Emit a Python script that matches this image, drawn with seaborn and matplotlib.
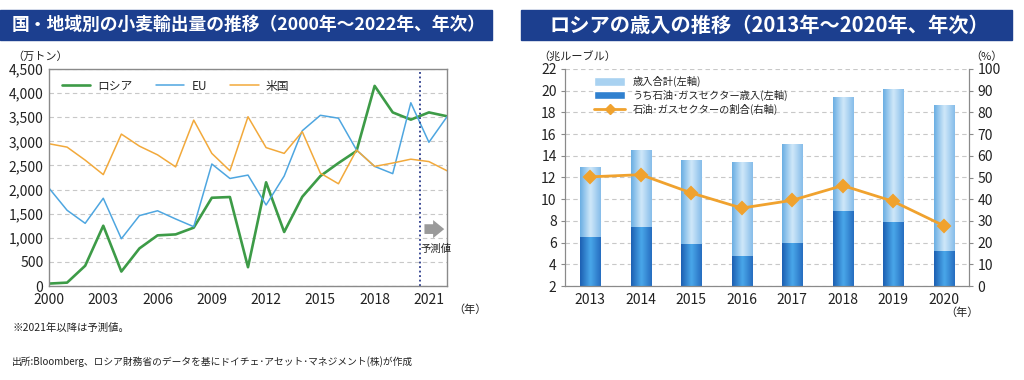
import numpy as np
import pandas as pd
import seaborn as sns
import matplotlib.pyplot as plt
from matplotlib.patches import Rectangle, Patch
from matplotlib.lines import Line2D
from matplotlib.colors import LinearSegmentedColormap

# 左：小麦輸出量（万トン）
years_l = list(range(2000, 2023))
russia = [50, 70, 420, 1250, 300, 780, 1050, 1070, 1210, 1830, 1845, 390, 2150, 1120,
          1850, 2280, 2550, 2800, 4150, 3600, 3450, 3600, 3520]
eu = [2030, 1570, 1300, 1820, 980, 1460, 1560, 1390, 1230, 2530, 2230, 2300, 1680, 2280,
      3220, 3540, 3480, 2820, 2480, 2330, 3800, 2980, 3510]
us = [2950, 2880, 2610, 2310, 3150, 2900, 2720, 2470, 3440, 2750, 2390, 3510, 2870, 2750,
      3200, 2340, 2120, 2820, 2480, 2550, 2630, 2580, 2390]
series_names = ['ロシア', 'EU', '米国']

# 右：ロシアの歳入（兆ルーブル、%）
years_r = ['2013', '2014', '2015', '2016', '2017', '2018', '2019', '2020']
revenue_total = [13.0, 14.5, 13.65, 13.45, 15.05, 19.45, 20.2, 18.7]
revenue_oilgas = [6.5, 7.4, 5.85, 4.8, 5.95, 8.95, 7.9, 5.2]
oilgas_share = [50.3, 51.3, 42.9, 35.9, 39.5, 46.3, 39.0, 27.8]

sns.set_style('white')
plt.rcParams['font.family'] = ['Noto Sans CJK JP', 'DejaVu Sans']
plt.rcParams['axes.unicode_minus'] = False

NAVY = '#1c3f8f'
GRID = '#c8c8c8'
SPINE = '#8a8a8a'
TXT = '#222222'

fig = plt.figure(figsize=(10.24, 3.8), dpi=100)

# タイトル帯
for x0, x1, title, fs in [(0, 492, '国・地域別の小麦輸出量の推移（2000年～2022年、年次）', 12.8),
                          (521, 1012, 'ロシアの歳入の推移（2013年～2020年、年次）', 14.6)]:
    fig.patches.append(Rectangle((x0 / 1024, 1 - 40 / 380), (x1 - x0) / 1024, 30 / 380,
                                 transform=fig.transFigure, color=NAVY, zorder=0))
    fig.text((x0 + x1) / 2 / 1024 + 0.003, 1 - 25 / 380, title, color='white', fontsize=fs,
             fontweight='bold', ha='center', va='center')

# ---- 左グラフ ----
ax1 = fig.add_axes([49 / 1024, 1 - 286 / 380, 398 / 1024, 217 / 380])
df_l = pd.DataFrame({'year': years_l, 'ロシア': russia, 'EU': eu, '米国': us})
df_l = df_l.melt(id_vars='year', var_name='series', value_name='value')
palette_l = {'ロシア': '#3d9b47', 'EU': '#4ea6e0', '米国': '#f2a93b'}
sizes_l = {'ロシア': 1.9, 'EU': 1.1, '米国': 1.1}
sns.lineplot(data=df_l, x='year', y='value', hue='series', hue_order=series_names,
             palette=palette_l, size='series', sizes=sizes_l, ax=ax1, legend=False)
ax1.set_xlim(2000, 2022)
ax1.set_ylim(0, 4500)
ax1.set_yticks(range(0, 4501, 500))
ax1.set_yticklabels([f'{v:,}' for v in range(0, 4501, 500)])
ax1.set_xticks(range(2000, 2022, 3))
ax1.set_xlabel('')
ax1.set_ylabel('')
ax1.yaxis.grid(True, color=GRID, linestyle=(0, (4, 3)), linewidth=0.8)
ax1.tick_params(axis='x', direction='in', length=3, color=SPINE, labelsize=10, labelcolor=TXT, pad=5)
ax1.tick_params(axis='y', length=0, labelsize=10, labelcolor=TXT, pad=4)
for s in ax1.spines.values():
    s.set_color(SPINE)
    s.set_linewidth(1.0)
ax1.axvline(2020.5, color='#2a3a8a', linestyle=(0, (1, 1.5)), linewidth=1.3)
ax1.annotate('', xy=(2022.0, 1180), xytext=(2020.6, 1180),
             arrowprops=dict(arrowstyle='simple,head_width=1.3,head_length=0.8,tail_width=0.7',
                             color='#9a9a9a', lw=0))
ax1.text(2020.55, 760, '予測値', fontsize=7.5, color=TXT, ha='left', va='center')
handles_l = [Line2D([], [], color=palette_l[n], lw=sizes_l[n]) for n in series_names]
ax1.legend(handles_l, series_names, loc='upper left', bbox_to_anchor=(0.005, 1.0), ncol=3,
           frameon=False, fontsize=8.5, handlelength=2.4, columnspacing=2.0, handletextpad=0.6)
fig.text(12 / 1024, 1 - 57 / 380, '（万トン）', fontsize=8, color=TXT, va='center')
fig.text(453 / 1024, 1 - 310 / 380, '（年）', fontsize=8, color=TXT, va='center')

# ---- 右グラフ ----
ax2 = fig.add_axes([565 / 1024, 1 - 286 / 380, 404 / 1024, 217 / 380])
df_r = pd.DataFrame({'year': years_r, 'total': revenue_total, 'oilgas': revenue_oilgas,
                     'share': oilgas_share})
sns.barplot(data=df_r, x='year', y='total', color='#9ccbee', width=0.4, ax=ax2)
sns.barplot(data=df_r, x='year', y='oilgas', color='#3588d4', width=0.4, ax=ax2)

light_cmap = LinearSegmentedColormap.from_list('light', ['#6aaee3', '#d0e8f9', '#86bdea'])
dark_cmap = LinearSegmentedColormap.from_list('dark', ['#1c5fb2', '#4aa8ea', '#266dc0'])
grad = np.linspace(0, 1, 64).reshape(1, -1)
n = len(years_r)
for i, p in enumerate(ax2.patches):
    cmap = light_cmap if i < n else dark_cmap
    x0, w = p.get_x(), p.get_width()
    y1 = p.get_height()
    im = ax2.imshow(grad, cmap=cmap, extent=[x0, x0 + w, 2, y1], aspect='auto',
                    zorder=2, interpolation='bicubic')
    im.set_clip_path(p)
ax2.set_ylim(2, 22)
ax2.set_xlim(-0.5, 7.5)

ax2.set_yticks(range(2, 23, 2))
ax2.yaxis.grid(True, color=GRID, linestyle=(0, (4, 3)), linewidth=0.8)
ax2.set_axisbelow(True)
ax2.set_xlabel('')
ax2.set_ylabel('')
ax2.set_xticks(np.arange(n))
ax2.set_xticks(np.arange(n - 1) + 0.5, minor=True)
ax2.tick_params(axis='x', which='major', length=0, labelsize=10, labelcolor=TXT, pad=5)
ax2.tick_params(axis='x', which='minor', direction='in', length=3, color=SPINE)
ax2.tick_params(axis='y', length=3, color=SPINE, labelsize=10, labelcolor=TXT, pad=3)
ax2.spines['top'].set_visible(False)
for s in ['left', 'right', 'bottom']:
    ax2.spines[s].set_color(SPINE)

ax3 = ax2.twinx()
sns.pointplot(data=df_r, x='year', y='share', color='#f0a22e', marker='D', markersize=6,
              linewidth=2, ax=ax3)
ax3.set_ylim(0, 100)
ax3.set_xlim(-0.5, 7.5)
ax3.set_yticks(range(0, 101, 10))
ax3.set_ylabel('')
ax3.set_xlabel('')
ax3.tick_params(axis='y', length=3, color=SPINE, labelsize=10, labelcolor=TXT, pad=3)
ax3.spines['top'].set_visible(False)
for s in ['left', 'right', 'bottom']:
    ax3.spines[s].set_color(SPINE)

handles_r = [Patch(facecolor='#a9d2f1'), Patch(facecolor='#2f80cf'),
             Line2D([], [], color='#f0a22e', lw=2, marker='D', markersize=5)]
labels_r = ['歳入合計(左軸)', 'うち石油･ガスセクター歳入(左軸)', '石油･ガスセクターの割合(右軸)']
ax3.legend(handles_r, labels_r, loc='upper left', bbox_to_anchor=(0.05, 1.01), frameon=False,
           fontsize=7.4, handlelength=3.0, handleheight=0.9, labelspacing=0.25, handletextpad=0.7)
fig.text(538 / 1024, 1 - 57 / 380, '（兆ルーブル）', fontsize=8, color=TXT, va='center')
fig.text(970 / 1024, 1 - 57 / 380, '（%）', fontsize=8, color=TXT, va='center')
fig.text(945 / 1024, 1 - 313 / 380, '（年）', fontsize=8, color=TXT, va='center')

# 注記
fig.text(12 / 1024, 1 - 328 / 380, '※2021年以降は予測値。', fontsize=7.5, color=TXT, va='center')
fig.text(12 / 1024, 1 - 362 / 380,
         '出所:Bloomberg、ロシア財務省のデータを基にドイチェ･アセット･マネジメント(株)が作成',
         fontsize=7.0, color=TXT, va='center')

fig.savefig('out.png', dpi=100)
